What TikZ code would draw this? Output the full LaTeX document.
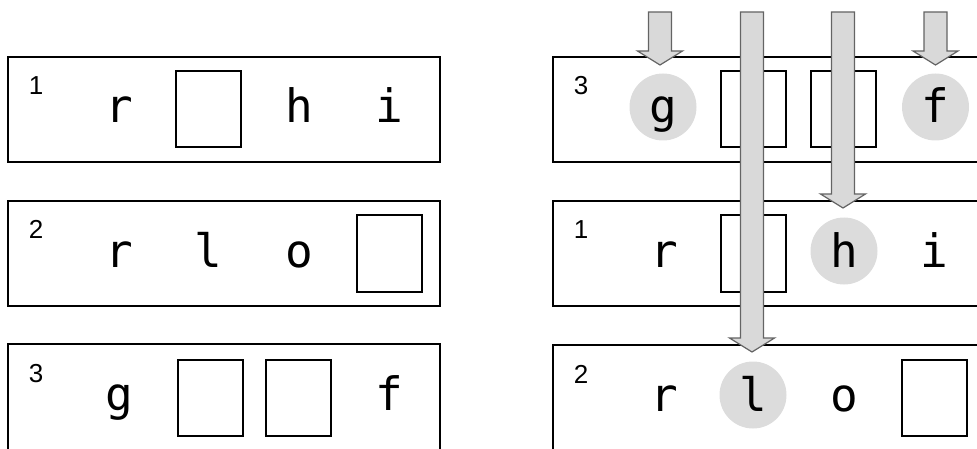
\documentclass[tikz,border=0pt]{standalone}
\usepackage{fontspec}
\usetikzlibrary{calc}
\newfontfamily\lettfont{DejaVu Sans Mono}
\newfontfamily\numfont{Liberation Sans}
\definecolor{hlgray}{RGB}{220,220,220}
\definecolor{flowfill}{RGB}{217,217,217}
\definecolor{flowline}{RGB}{100,100,100}
\tikzset{
  rowbox/.style={draw, line width=2.7pt, minimum width=432pt, minimum height=105pt,
    inner sep=0pt, outer sep=0pt, anchor=north west},
  slotbox/.style={draw, line width=2pt, minimum width=65pt, minimum height=76pt,
    inner sep=0pt, outer sep=0pt},
  hl/.style={circle, fill=hlgray, minimum size=67pt, inner sep=0pt},
  letter/.style={font={\lettfont\fontsize{46pt}{46pt}\selectfont}, anchor=base, inner sep=0pt},
  num/.style={font={\numfont\fontsize{26pt}{26pt}\selectfont}, anchor=base, inner sep=0pt},
  flow/.style={fill=flowfill, draw=flowline, line width=1.2pt, line join=miter},
}
% #1 start coordinate, #2 tip coordinate
\newcommand\fatarrow[2]{%
  \path[flow] let \p1=(#1), \p2=(#2) in
    (\x1-11.5pt,\y1) -- (\x1+11.5pt,\y1) -- (\x1+11.5pt,\y2+14pt) --
    (\x1+22.5pt,\y2+14pt) -- (\x1,\y2) -- (\x1-22.5pt,\y2+14pt) --
    (\x1-11.5pt,\y2+14pt) -- cycle;}
\begin{document}
\begin{tikzpicture}[x=1pt,y=-1pt]
\useasboundingbox (0,0) rectangle (977,449);
\clip (0,0) rectangle (977,449);
% ---------- left column ----------
\node[rowbox] (L1) at (8,57) {};
\node[num] (L1n) at (36,95) {1};
\node[letter] (L1a) at (119,123) {r};
\node[slotbox] (L1b) at (208,109.5) {};
\node[letter] (L1c) at (299,123) {h};
\node[letter] (L1d) at (389,123) {i};

\node[rowbox] (L2) at (8,201) {};
\node[num] (L2n) at (36,239) {2};
\node[letter] (L2a) at (119,267) {r};
\node[letter] (L2b) at (208,267) {l};
\node[letter] (L2c) at (299,267) {o};
\node[slotbox] (L2d) at (389,253.5) {};

\node[rowbox, minimum height=112pt] (L3) at (8,344) {};
\node[num] (L3n) at (36,382) {3};
\node[letter] (L3a) at (119,410) {g};
\node[slotbox] (L3b) at (210,397.5) {};
\node[slotbox] (L3c) at (298,397.5) {};
\node[letter] (L3d) at (389,410) {f};
% ---------- right column ----------
\node[rowbox] (R3) at (553,57) {};
\node[num] (R3n) at (581,95) {3};
\node[hl] (R3ac) at (663,107) {};
\node[letter] (R3a) at (663,123) {g};
\node[slotbox] (R3b) at (753,109.5) {};
\node[slotbox] (R3c) at (843,109.5) {};
\node[hl] (R3dc) at (935.5,107) {};
\node[letter] (R3d) at (935.5,123) {f};

\node[rowbox] (R1) at (553,201) {};
\node[num] (R1n) at (581,239) {1};
\node[letter] (R1a) at (664,267) {r};
\node[slotbox] (R1b) at (753,253.5) {};
\node[hl] (R1cc) at (844,251) {};
\node[letter] (R1c) at (844,267) {h};
\node[letter] (R1d) at (934,267) {i};

\node[rowbox, minimum height=112pt] (R2) at (553,345) {};
\node[num] (R2n) at (581,383) {2};
\node[letter] (R2a) at (664,411) {r};
\node[hl] (R2bc) at (753,395) {};
\node[letter] (R2b) at (753,411) {l};
\node[letter] (R2c) at (844,411) {o};
\node[slotbox] (R2d) at (934,397.5) {};
% ---------- arrows ----------
\coordinate (sg) at (660,12);
\coordinate (tg) at ($(sg|-R3.north)+(0,8)$);
\coordinate (sf) at (935.5,12);
\coordinate (tf) at ($(sf|-R3.north)+(0,8)$);
\coordinate (sl) at (752,12);
\coordinate (tl) at ($(sl|-R2.north)+(0,7)$);
\coordinate (sh) at (843,12);
\coordinate (th) at ($(sh|-R1.north)+(0,7)$);
\fatarrow{sg}{tg}
\fatarrow{sf}{tf}
\fatarrow{sl}{tl}
\fatarrow{sh}{th}
\end{tikzpicture}
\end{document}
